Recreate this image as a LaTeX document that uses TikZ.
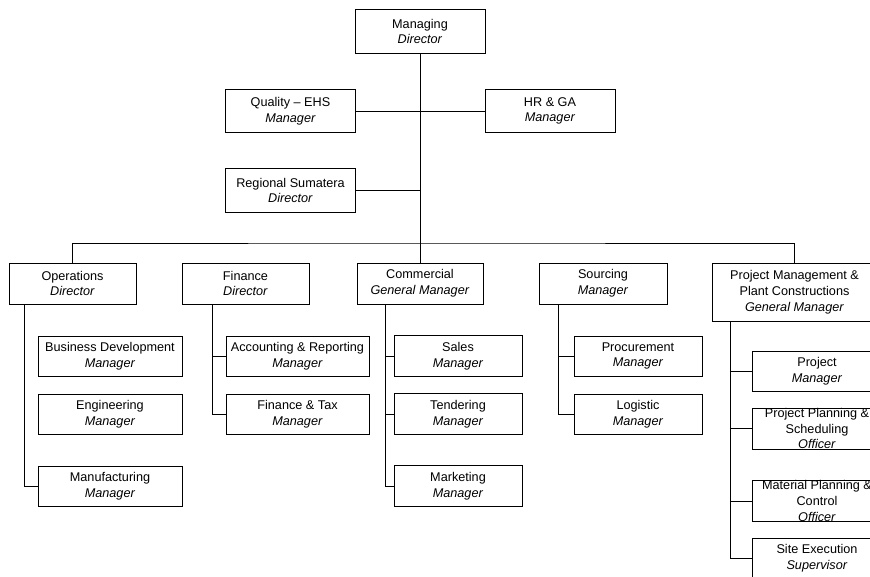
\documentclass[tikz,border=0pt]{standalone}
\usepackage{fontspec}
\setmainfont{Liberation Sans}
\usetikzlibrary{positioning,calc}

\begin{document}
\begin{tikzpicture}[x=0.75pt,y=-0.75pt,line width=0.7pt,
  font=\fontsize{9.5}{11.8}\selectfont,
  post/.style={draw,fill=white,inner sep=0pt,align=center,minimum width=96pt,minimum height=30.75pt},
  toppost/.style={post,minimum width=97.5pt,minimum height=32.5pt},
  widepost/.style={post,minimum width=108pt,minimum height=30pt}]
\path[use as bounding box] (0,0) rectangle (870,576);
\clip (0,0) rectangle (870,576);
% Board level
\node[toppost] (md) at (420,31.5) {Managing\\\textit{Director}};
\node[toppost] (qe) at (290.5,111) {Quality -- EHS\\\textit{Manager}};
\node[toppost] (hr) at (550,111) {HR \& GA\\\textit{Manager}};
\node[toppost] (rs) at (290.5,190.5) {Regional Sumatera\\\textit{Director}};
% Division heads
\node[post,minimum width=95.25pt] (ops) at (72.5,283.5) {Operations\\\textit{Director}};
\node[post,minimum width=95.25pt] (fin) at (245.5,283.5) {Finance\\\textit{Director}};
\node[post,minimum width=94.5pt] (com) at (420,283.5) {Commercial\\\textit{General Manager}};
\node[post] (src) at (603,283.5) {Sourcing\\\textit{Manager}};
\node[post,minimum width=123.75pt,minimum height=43.5pt] (pm) at (794.5,292) {Project Management \&\\Plant Constructions\\\textit{General Manager}};
% Operations
\node[widepost] (bd) at (110,356) {Business Development\\\textit{Manager}};
\node[widepost] (eng) at (110,414) {Engineering\\\textit{Manager}};
\node[widepost] (mfg) at (110,486) {Manufacturing\\\textit{Manager}};
% Finance
\node[widepost,minimum width=107.25pt] (acc) at (297.5,356) {Accounting \& Reporting\\\textit{Manager}};
\node[widepost,minimum width=107.25pt] (ft) at (297.5,414) {Finance \& Tax\\\textit{Manager}};
% Commercial
\node[post] (sal) at (458,356) {Sales\\\textit{Manager}};
\node[post] (ten) at (458,414) {Tendering\\\textit{Manager}};
\node[post] (mkt) at (458,486) {Marketing\\\textit{Manager}};
% Sourcing
\node[post,minimum height=30pt] (pro) at (638,356) {Procurement\\\textit{Manager}};
\node[post,minimum height=30pt] (log) at (638,414) {Logistic\\\textit{Manager}};
% Project management
\node[post,minimum width=97.5pt,minimum height=30pt] (pj) at (817,371) {Project\\\textit{Manager}};
\node[post,minimum width=97.5pt] (pps) at (817,428.5) {Project Planning \&\\Scheduling\\\textit{Officer}};
\node[post,minimum width=97.5pt] (mpc) at (817,501) {Material Planning \&\\Control\\\textit{Officer}};
\node[post,minimum width=97.5pt,minimum height=30pt] (se) at (817,558) {Site Execution\\\textit{Supervisor}};

% Trunk and staff lines
\draw (md) -- (com);
\draw (qe) -- (hr);
\draw (rs.east) -- (rs.east -| md);
\coordinate (bus) at (420,243);
\draw (ops.north) |- (bus) -| (pm.north);
% Branches
\coordinate (ops-bar) at ($(ops.south)+(-48.5,0)$);
\draw (ops-bar) |- (mfg.west);
\coordinate (fin-bar) at ($(fin.south)+(-33.5,0)$);
\draw (fin-bar) |- (ft.west);
\draw (fin-bar |- acc.west) -- (acc.west);
\coordinate (com-bar) at ($(com.south)+(-35,0)$);
\draw (com-bar) |- (mkt.west);
\draw (com-bar |- sal.west) -- (sal.west);
\draw (com-bar |- ten.west) -- (ten.west);
\coordinate (src-bar) at ($(src.south)+(-45,0)$);
\draw (src-bar) |- (log.west);
\draw (src-bar |- pro.west) -- (pro.west);
\coordinate (pm-bar) at ($(pm.south)+(-64.5,0)$);
\draw (pm-bar) |- (se.west);
\draw (pm-bar |- pj.west) -- (pj.west);
\draw (pm-bar |- pps.west) -- (pps.west);
\draw (pm-bar |- mpc.west) -- (mpc.west);
\end{tikzpicture}
\end{document}
